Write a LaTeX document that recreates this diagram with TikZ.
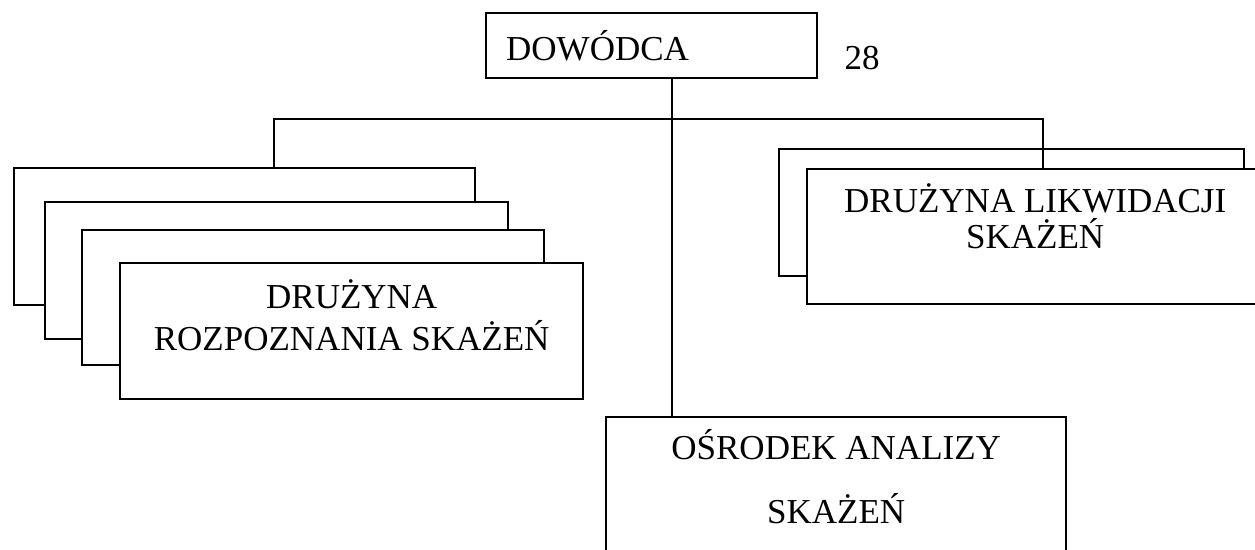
\documentclass[tikz,border=0pt]{standalone}
\usepackage{fontspec}
\setmainfont{Liberation Serif}
\usetikzlibrary{calc}

\newcommand{\unitfont}{\fontsize{17.5}{21}\selectfont}

\tikzset{
  unitbox/.style={draw, line width=1.2pt, fill=white, anchor=north west, inner sep=0pt},
  unittext/.style={align=center, font=\unitfont},
}

\begin{document}
\begin{tikzpicture}[x=0.5pt, y=-0.5pt]
      \useasboundingbox (0,0) rectangle (1255,550);
      \clip (0,0) rectangle (1255,550);

      \coordinate (leftTap) at (274, 119);
      \coordinate (trunk) at (672, 119);
      \coordinate (rightTap) at (1043, 119);

      % dowodca
      \node[unitbox, minimum width=165.5pt, minimum height=32.5pt, text width=145.5pt, inner xsep=10pt, align=left, font=\unitfont] (dow) at (485, 12) {DOWÓDCA};
      \node[font=\unitfont] (pageNo) at (862, 58) {28};

      % druzyny rozpoznania
      \node[unitbox, minimum width=230.5pt, minimum height=68.5pt] (drs1) at (13, 167) {};
      \node[unitbox, minimum width=231.5pt, minimum height=68.5pt] (drs2) at (44, 201) {};
      \node[unitbox, minimum width=231pt, minimum height=67.5pt] (drs3) at (81, 229) {};
      \node[unitbox, minimum width=231.5pt, minimum height=68pt] (drs4) at (119, 262) {};
      \node[unittext] (drsText) at ([yshift=8pt]drs4.center) {DRUŻYNA\\ROZPOZNANIA SKAŻEŃ};

      % druzyny likwidacji
      \node[unitbox, minimum width=232.5pt, minimum height=63.5pt] (dlk1) at (778, 148) {};
      \node[unitbox, minimum width=228pt, minimum height=67.5pt] (dlk2) at (806, 168) {};
      \node[unittext] (dlkText) at ([yshift=10pt]dlk2.center) {DRUŻYNA LIKWIDACJI\\[-3pt]SKAŻEŃ};

      % osrodek
      \node[unitbox, minimum width=230pt, minimum height=75pt] (osr) at (605, 416) {};
      \node[unittext] (osrText) at ([yshift=8pt]osr.center) {OŚRODEK ANALIZY\\[11pt]SKAŻEŃ};

      \draw[line width=1.2pt] (leftTap |- drs1.north) -- (leftTap) -- (rightTap) -- (rightTap |- dlk2.north);
      \draw[line width=1.2pt] (trunk |- dow.south) -- (trunk |- osr.north);
\end{tikzpicture}
\end{document}
